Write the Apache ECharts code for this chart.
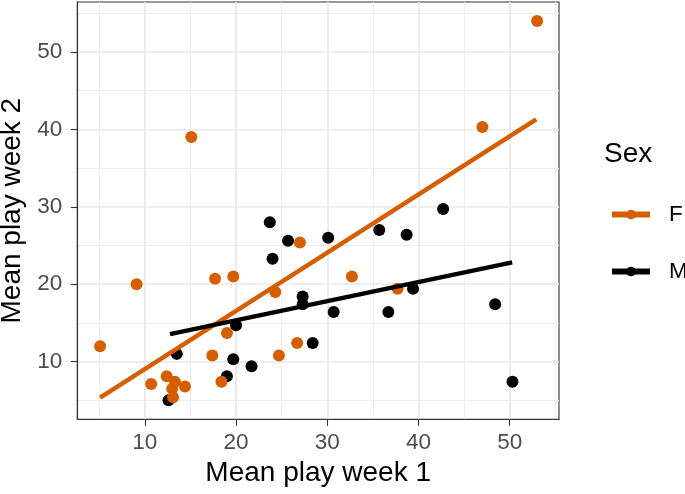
<!DOCTYPE html>
<html>
<head>
<meta charset="utf-8">
<script src="https://cdn.jsdelivr.net/npm/echarts@6/dist/echarts.min.js"></script>
<style>
html,body{margin:0;padding:0;background:#fff;}
#c{width:685px;height:494px;}
</style>
</head>
<body>
<div id="c"></div>
<script>
// ---- data ----
const femaleX = [15.1, 53.0, 47.0, 27.0, 9.1, 17.7, 19.7, 24.3, 5.1, 19.0, 17.4, 26.7, 24.7, 18.4, 10.7, 12.4, 13.3, 14.4, 13.0, 13.1, 32.7, 37.7];
const femaleY = [39.0, 54.0, 40.3, 25.4, 20.0, 20.7, 21.0, 19.0, 12.0, 13.7, 10.8, 12.4, 10.8, 7.4, 7.1, 8.1, 7.4, 6.8, 6.5, 5.4, 21.0, 19.4];
const maleX = [23.7, 25.7, 24.0, 27.3, 27.3, 20.0, 13.5, 19.7, 28.4, 21.7, 19.0, 12.6, 42.7, 30.1, 35.7, 38.7, 39.4, 30.7, 36.7, 48.4, 50.3];
const maleY = [28.0, 25.6, 23.3, 18.4, 17.4, 14.7, 11.0, 10.3, 12.4, 9.4, 8.1, 5.0, 29.7, 26.0, 27.0, 26.4, 19.4, 16.4, 16.4, 17.4, 7.4];
const fitFX = [5.1, 52.9];
const fitFY = [5.35, 41.3];
const fitMX = [12.77, 50.27];
const fitMY = [13.55, 22.82];
const xTicks = [10, 20, 30, 40, 50];
const yTicks = [10, 20, 30, 40, 50];
const xMinor = [5, 15, 25, 35, 45, 55];
const yMinor = [5, 15, 25, 35, 45, 55];
const groups = ['F', 'M'];
const xTitle = 'Mean play week 1';
const yTitle = 'Mean play week 2';
const legendTitle = 'Sex';

const colF = '#D55E00', colM = '#000000';
const zip = (a, b) => a.map((v, i) => [v, b[i]]);
const FONT = 'Liberation Sans, Arial, Helvetica, sans-serif';

const chart = echarts.init(document.getElementById('c'), null, {renderer: 'canvas'});
const xr = [2.6, 55.4], yr = [2.55, 56.45];
const majorLine = {show: true, lineStyle: {color: '#e8e8e8', width: 1.7}};
const minorLine = {show: true, lineStyle: {color: '#ebebeb', width: 0.9}};
chart.setOption({
  animation: false,
  backgroundColor: '#fff',
  title: {text: legendTitle, left: 604, top: 140, padding: 0,
    textStyle: {fontFamily: FONT, fontSize: 28, fontWeight: 'normal', color: '#000'}},
  legend: {
    data: groups, orient: 'vertical', left: 609, top: 203, padding: 0,
    itemWidth: 38, itemHeight: 12, itemGap: 34,
    lineStyle: {width: 6},
    textStyle: {fontFamily: FONT, fontSize: 22.5, color: '#000', padding: [0, 0, 0, 14]}
  },
  grid: {left: 77.3, right: 126, top: 2, bottom: 74.7, containLabel: false, outerBoundsMode: 'none',
    show: true, borderColor: '#333', borderWidth: 1.1, backgroundColor: 'transparent'},
  xAxis: [{
    type: 'value', min: xr[0], max: xr[1], z: 2,
    name: xTitle, nameLocation: 'middle', nameGap: 37,
    nameTextStyle: {fontFamily: FONT, fontSize: 28, color: '#000'},
    axisLine: {show: true, onZero: false, lineStyle: {color: '#333', width: 1.1}},
    axisTick: {show: true, length: 6.5, customValues: xTicks, lineStyle: {color: '#333', width: 1.1}},
    axisLabel: {customValues: xTicks, margin: 12, fontFamily: FONT, fontSize: 22.5, color: '#4d4d4d'},
    splitLine: majorLine
  }, {
    type: 'value', min: xr[0], max: xr[1], z: 1, position: 'bottom',
    axisLine: {show: false}, axisTick: {show: false, customValues: xMinor},
    axisLabel: {show: false, customValues: xMinor}, splitLine: minorLine
  }],
  yAxis: [{
    type: 'value', min: yr[0], max: yr[1], z: 2,
    name: yTitle, nameLocation: 'middle', nameGap: 48,
    nameTextStyle: {fontFamily: FONT, fontSize: 28, color: '#000'},
    axisLine: {show: true, onZero: false, lineStyle: {color: '#333', width: 1.1}},
    axisTick: {show: true, length: 6.5, customValues: yTicks, lineStyle: {color: '#333', width: 1.1}},
    axisLabel: {customValues: yTicks, margin: 15, fontFamily: FONT, fontSize: 22.5, color: '#4d4d4d'},
    splitLine: majorLine
  }, {
    type: 'value', min: yr[0], max: yr[1], z: 1, position: 'left',
    axisLine: {show: false}, axisTick: {show: false, customValues: yMinor},
    axisLabel: {show: false, customValues: yMinor}, splitLine: minorLine
  }],
  series: [
    {name: 'F', type: 'line', data: zip(fitFX, fitFY), symbol: 'circle', showSymbol: false, z: 5,
      color: colF, lineStyle: {color: colF, width: 4.5}, itemStyle: {color: colF}},
    {name: 'M', type: 'line', data: zip(fitMX, fitMY), symbol: 'circle', showSymbol: false, z: 6,
      color: colM, lineStyle: {color: colM, width: 4.5}, itemStyle: {color: colM}},
    {name: 'M', type: 'scatter', data: zip(maleX, maleY), symbolSize: 12, z: 3,
      itemStyle: {color: colM, opacity: 1}},
    {name: 'F', type: 'scatter', data: zip(femaleX, femaleY), symbolSize: 12, z: 4,
      itemStyle: {color: colF, opacity: 1}}
  ]
});
</script>
</body>
</html>
